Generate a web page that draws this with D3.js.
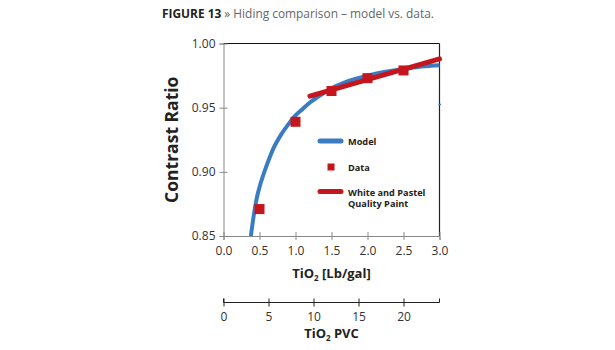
<!DOCTYPE html>
<html>
<head>
<meta charset="utf-8">
<script src="https://cdn.jsdelivr.net/npm/d3@7"></script>
<style>
  html, body { margin: 0; padding: 0; background: #fff; }
  svg { display: block; font-family: "Open Sans", "Noto Sans", sans-serif; }
</style>
</head>
<body>
<svg id="chart" width="615" height="350"></svg>
<script>
// ---- data ----
const modelX = [0.38, 0.42, 0.46, 0.5, 0.6, 0.7, 0.8, 0.9, 1.0, 1.1, 1.2, 1.3, 1.5, 1.75, 2.0, 2.25, 2.5, 2.75, 3.0];
const modelY = [0.850, 0.866, 0.879, 0.888, 0.905, 0.919, 0.929, 0.937, 0.944, 0.949, 0.954, 0.958, 0.965, 0.971, 0.975, 0.978, 0.980, 0.982, 0.983];
const dataX = [0.5, 1.0, 1.5, 2.0, 2.5];
const dataY = [0.871, 0.939, 0.963, 0.973, 0.979];
const paintX = [1.2, 3.0];
const paintY = [0.959, 0.988];
const xTicks = [0.0, 0.5, 1.0, 1.5, 2.0, 2.5, 3.0];
const yTicks = [0.85, 0.90, 0.95, 1.00];
const pvcTicks = [0, 5, 10, 15, 20];
const legendLabels = ["Model", "Data", ["White and Pastel", "Quality Paint"]];

const BLUE = "#3a7cc3", RED = "#c4161c";

const svg = d3.select("#chart");
const x = d3.scaleLinear().domain([0, 3]).range([223.5, 439.5]);
const y = d3.scaleLinear().domain([0.85, 1.0]).range([236, 43.5]);
const xp = d3.scaleLinear().domain([0, 24]).range([223.5, 439.5]);

// title
const title = svg.append("text").attr("x", 162).attr("y", 18).attr("font-size", 11.9);
title.append("tspan").attr("font-weight", 700).attr("fill", "#222").text("FIGURE 13");
title.append("tspan").attr("fill", "#666").text(" » Hiding comparison – model vs. data.");

// frame top/right
svg.append("line").attr("x1", x(0)).attr("x2", x(3)).attr("y1", y(1)).attr("y2", y(1))
  .attr("stroke", "#111").attr("stroke-width", 1.2);
svg.append("line").attr("x1", x(3)).attr("x2", x(3)).attr("y1", y(1)).attr("y2", y(0.85))
  .attr("stroke", "#222").attr("stroke-width", 1.2);
svg.append("line").attr("x1", x(3) - 1).attr("x2", x(3) + 1.5).attr("y1", y(0.9525)).attr("y2", y(0.9525))
  .attr("stroke", BLUE).attr("stroke-width", 1.5);

// y axis
const yAxis = svg.append("g").attr("transform", `translate(${x(0)},0)`)
  .call(d3.axisLeft(y).tickValues(yTicks).tickFormat(d3.format(".2f")).tickSize(4).tickPadding(4));
yAxis.select(".domain").attr("stroke", "#888");
yAxis.selectAll(".tick line").attr("stroke", "#888").attr("x2", 4).attr("x1", -4);
yAxis.selectAll(".tick text").attr("font-size", 12).attr("fill", "#333").attr("font-family", "Open Sans");

// x axis
const xAxis = svg.append("g").attr("transform", `translate(0,${y(0.85)})`)
  .call(d3.axisBottom(x).tickValues(xTicks).tickFormat(d3.format(".1f")).tickSize(4).tickPadding(6));
xAxis.select(".domain").attr("stroke", "#888");
xAxis.selectAll(".tick line").attr("stroke", "#888").attr("y1", -4).attr("y2", 4);
xAxis.selectAll(".tick text").attr("font-size", 12).attr("fill", "#333").attr("font-family", "Open Sans");

// clip
svg.append("clipPath").attr("id", "clip").append("rect")
  .attr("x", x(0)).attr("y", y(1) - 10).attr("width", x(3) - x(0) + 3).attr("height", y(0.85) - y(1) + 10);

const plot = svg.append("g").attr("clip-path", "url(#clip)");

// model curve
plot.append("path")
  .datum(modelX.map((d, i) => [d, modelY[i]]))
  .attr("fill", "none").attr("stroke", BLUE).attr("stroke-width", 4)
  .attr("d", d3.line().x(d => x(d[0])).y(d => y(d[1])).curve(d3.curveMonotoneX));

// paint line
plot.append("path")
  .datum(paintX.map((d, i) => [d, paintY[i]]))
  .attr("fill", "none").attr("stroke", RED).attr("stroke-width", 5).attr("stroke-linecap", "round")
  .attr("d", d3.line().x(d => x(d[0])).y(d => y(d[1])));

// data squares
const sq = 10;
svg.selectAll("rect.data").data(dataX.map((d, i) => [d, dataY[i]])).enter().append("rect")
  .attr("class", "data")
  .attr("x", d => x(d[0]) - sq / 2).attr("y", d => y(d[1]) - sq / 2)
  .attr("width", sq).attr("height", sq).attr("fill", RED);

// legend
const lg = svg.append("g");
lg.append("line").attr("x1", 320).attr("x2", 341).attr("y1", 141).attr("y2", 141)
  .attr("stroke", BLUE).attr("stroke-width", 5).attr("stroke-linecap", "round");
lg.append("rect").attr("x", 327.5).attr("y", 163.5).attr("width", 7).attr("height", 7).attr("fill", RED);
lg.append("line").attr("x1", 320).attr("x2", 341).attr("y1", 191.5).attr("y2", 191.5)
  .attr("stroke", RED).attr("stroke-width", 5).attr("stroke-linecap", "round");
const lt = lg.append("g").attr("font-size", 9.2).attr("font-weight", 700).attr("fill", "#222");
lt.append("text").attr("x", 348).attr("y", 144.5).text(legendLabels[0]);
lt.append("text").attr("x", 348).attr("y", 170.5).text(legendLabels[1]);
lt.append("text").attr("x", 348).attr("y", 195.5).text(legendLabels[2][0]);
lt.append("text").attr("x", 348).attr("y", 207).text(legendLabels[2][1]);

// y label
svg.append("text").attr("transform", `translate(178,${(y(1) + y(0.85)) / 2}) rotate(-90)`)
  .attr("text-anchor", "middle").attr("font-size", 17.5).attr("font-weight", 700).attr("fill", "#222")
  .text("Contrast Ratio");

// x label
const xl = svg.append("text").attr("x", (x(0) + x(3)) / 2).attr("y", 277.5)
  .attr("text-anchor", "middle").attr("font-size", 13).attr("font-weight", 700).attr("fill", "#222");
xl.append("tspan").text("TiO");
xl.append("tspan").attr("font-size", 8).attr("dy", 3).text("2");
xl.append("tspan").attr("dy", -3).text(" [Lb/gal]");

// PVC axis
const pAxis = svg.append("g").attr("transform", "translate(0,302.5)")
  .call(d3.axisBottom(xp).tickValues(pvcTicks).tickSize(4).tickPadding(6));
pAxis.select(".domain").attr("stroke", "#222").attr("d", `M${xp(0)},-4V0H${xp(24)}V-4`);
pAxis.selectAll(".tick line").attr("stroke", "#222").attr("y1", -4).attr("y2", 4);
pAxis.selectAll(".tick text").attr("font-size", 12).attr("fill", "#333").attr("font-family", "Open Sans");

const pl = svg.append("text").attr("x", (x(0) + x(3)) / 2).attr("y", 337.5)
  .attr("text-anchor", "middle").attr("font-size", 13).attr("font-weight", 700).attr("fill", "#222");
pl.append("tspan").text("TiO");
pl.append("tspan").attr("font-size", 8).attr("dy", 3).text("2");
pl.append("tspan").attr("dy", -3).text(" PVC");
</script>
</body>
</html>
